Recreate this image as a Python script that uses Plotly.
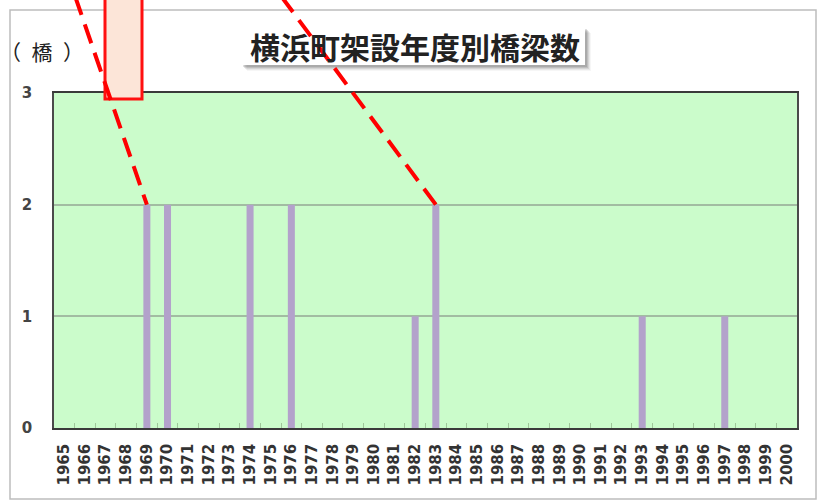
import plotly.graph_objects as go

# Bridges built in Yokohama town, by fiscal year of construction
years = [str(y) for y in range(1965, 2001)]
built_years = ["1969", "1970", "1974", "1976", "1982", "1983", "1993", "1997"]
built_counts = [2, 2, 2, 2, 1, 2, 1, 1]
counts = [built_counts[built_years.index(y)] if y in built_years else 0 for y in years]

# years pointed at by the callout lines
callout_years = ["1969", "1983"]

title_text = "横浜町架設年度別橋梁数"
unit_text = "（\u2002橋\u2002）"
y_ticks = [0, 1, 2, 3]
y_max = 3

W, H = 819, 504
L, R, T, B = 54, 797, 93, 428


def px_x(px):
    return (px - L) / (R - L)


def px_y(py):
    return (B - py) / (B - T)


fig = go.Figure()
fig.add_trace(go.Bar(
    x=years, y=counts,
    marker=dict(color="#b3a2cb", line=dict(width=0)),
    hoverinfo="x+y",
))

shapes = []
# outer chart frame
shapes.append(dict(type="rect", xref="paper", yref="paper",
                   x0=px_x(10), x1=px_x(816), y0=px_y(499), y1=px_y(10),
                   line=dict(color="#bdbdbd", width=1.5), fillcolor="rgba(0,0,0,0)",
                   layer="below"))

# title box with a soft drop shadow
for off, op in [(6, 0.05), (5, 0.08), (4, 0.12), (3, 0.16), (2, 0.18)]:
    shapes.append(dict(type="rect", xref="paper", yref="paper",
                       x0=px_x(241 + off), x1=px_x(585 + off),
                       y0=px_y(65 + off), y1=px_y(27 + off),
                       line=dict(width=0), fillcolor=f"rgba(80,80,80,{op})"))
shapes.append(dict(type="rect", xref="paper", yref="paper",
                   x0=px_x(241), x1=px_x(585), y0=px_y(65), y1=px_y(27),
                   line=dict(width=0), fillcolor="white"))

# callout box at the top
shapes.append(dict(type="rect", xref="paper", yref="paper",
                   x0=px_x(105), x1=px_x(142), y0=px_y(99), y1=px_y(-6),
                   line=dict(color="#ff1010", width=3), fillcolor="#fce5d8"))

# dashed leader lines from the top edge down to the bar tops
n = len(years)
line_tops = [(75, 0), (281, 0)]
for (tx, ty), yr in zip(line_tops, callout_years):
    i = years.index(yr)
    bx = (i + 0.5) / n
    by = counts[i] / y_max
    shapes.append(dict(type="line", xref="paper", yref="paper",
                       x0=px_x(tx), y0=px_y(ty - 4), x1=bx, y1=by,
                       line=dict(color="#ff0000", width=4, dash="20px,10px")))

annotations = [
    dict(text=f"<b>{title_text}</b>", xref="paper", yref="paper",
         x=px_x(415), y=px_y(46), xanchor="center", yanchor="middle",
         showarrow=False,
         font=dict(family="Noto Sans CJK JP", size=30, color="#222222")),
    dict(text=unit_text, xref="paper", yref="paper",
         x=px_x(42), y=px_y(51), xanchor="center", yanchor="middle",
         showarrow=False,
         font=dict(family="Noto Sans CJK JP", size=21, color="#222222")),
]

fig.update_layout(
    width=W, height=H,
    margin=dict(l=L, r=W - R, t=T, b=H - B, pad=0),
    paper_bgcolor="white",
    plot_bgcolor="#cbfccb",
    bargap=0.66,
    showlegend=False,
    shapes=shapes,
    annotations=annotations,
    xaxis=dict(
        type="category", range=[-0.5, n - 0.5],
        tickangle=-90, tickson="boundaries",
        ticks="inside", ticklen=5, tickwidth=1, tickcolor="#9fc79a",
        tickfont=dict(family="DejaVu Sans", size=15, color="#333333", weight="bold"),
        ticklabelstandoff=8,
        showline=True, mirror=True, linecolor="#3a3a3a", linewidth=1.5,
        showgrid=False, zeroline=False,
    ),
    yaxis=dict(
        range=[0, y_max], tickvals=y_ticks,
        tickfont=dict(family="DejaVu Sans", size=15, color="#444444", weight="bold"),
        ticks="", ticklabelstandoff=17,
        showline=True, mirror=True, linecolor="#4a4a4a", linewidth=1.5,
        showgrid=True, gridcolor="#a2bca2", gridwidth=1.5,
        zeroline=False,
    ),
)

fig.write_html("out.html")
